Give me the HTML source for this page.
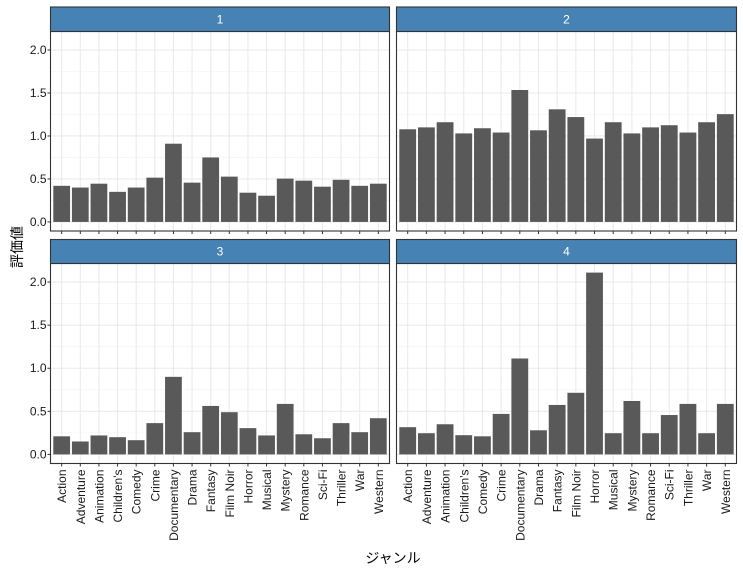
<!DOCTYPE html>
<html><head><meta charset="utf-8"><style>
body{margin:0;background:#fff}
svg{display:block;font-family:"Liberation Sans","Noto Sans CJK JP",sans-serif}
</style></head><body>
<svg id="chart" width="743" height="570" viewBox="0 0 743 570"></svg>
<script>
const genres = ["Action","Adventure","Animation","Children's","Comedy","Crime","Documentary","Drama","Fantasy","Film Noir","Horror","Musical","Mystery","Romance","Sci-Fi","Thriller","War","Western"];
const facetLabels = ["1","2","3","4"];
const values1 = [0.42,0.40,0.445,0.35,0.40,0.515,0.91,0.457,0.75,0.527,0.34,0.305,0.504,0.48,0.41,0.49,0.42,0.445];
const values2 = [1.078,1.10,1.16,1.03,1.09,1.04,1.535,1.066,1.31,1.22,0.97,1.16,1.03,1.10,1.125,1.04,1.16,1.254];
const values3 = [0.21,0.15,0.22,0.20,0.165,0.363,0.90,0.258,0.5625,0.49,0.305,0.22,0.586,0.234,0.1875,0.363,0.258,0.42];
const values4 = [0.316,0.246,0.35,0.223,0.21,0.47,1.113,0.28,0.574,0.715,2.11,0.246,0.62,0.246,0.457,0.586,0.246,0.586];
const yTicks = [0,0.5,1.0,1.5,2.0];
const yTickLabels = ["0.0","0.5","1.0","1.5","2.0"];

const svg = document.getElementById('chart');
const NS = 'http://www.w3.org/2000/svg';
function mk(tag, attrs, parent){const e=document.createElementNS(NS,tag);for(const k in attrs)e.setAttribute(k,attrs[k]);(parent||svg).appendChild(e);return e;}

const allVals = [values1,values2,values3,values4];
const maxV = Math.max(...allVals.flat());
const yMin = -maxV*0.05, yMax = maxV*1.05;
const cols = [[50.5,389.5],[396.5,736.5]];
const rows = [[7,31.5,231],[239.5,263.5,463.5]];

allVals.forEach((vals, i) => {
  const c = cols[i%2], r = rows[Math.floor(i/2)];
  const x0=c[0], x1=c[1], top=r[1], bot=r[2];
  const n = genres.length;
  const step = (x1-x0)/(n-1+1.2);
  const xS = k => x0 + step*(0.6+k);
  const yS = v => bot - (v-yMin)/(yMax-yMin)*(bot-top);
  const g = mk('g',{});
  
  
  mk('rect',{x:x0,y:top,width:x1-x0,height:bot-top,fill:'#fff'},g);
  for(let t=0.25;t<2.2;t+=0.5){ const y=yS(t); if(y>top) mk('line',{x1:x0,x2:x1,y1:y,y2:y,stroke:'#f2f2f2','stroke-width':0.6},g); }
  yTicks.forEach(t=>{const y=yS(t);mk('line',{x1:x0,x2:x1,y1:y,y2:y,stroke:'#ebebeb','stroke-width':1.1},g);});
  genres.forEach((_,k)=>{const x=xS(k);mk('line',{x1:x,x2:x,y1:top,y2:bot,stroke:'#ebebeb','stroke-width':1.1},g);});
  vals.forEach((v,k)=>{
    const b = mk('rect',{x:xS(k)-step*0.45,y:yS(v),width:step*0.9,height:yS(0)-yS(v),fill:'#595959'},g);
    
    
  });
  mk('rect',{x:x0,y:top,width:x1-x0,height:bot-top,fill:'none',stroke:'#333','stroke-width':1.1},g);
  const s = mk('rect',{x:x0,y:r[0],width:x1-x0,height:top-r[0],fill:'#4682b4',stroke:'#333','stroke-width':1.1},g);
  
  
  const st = mk('text',{x:(x0+x1)/2,y:(r[0]+top)/2+4,'text-anchor':'middle','font-size':12,fill:'#fff'},g);
  st.textContent = facetLabels[i];
  
  
  if(i%2===0){
    yTicks.forEach((t,j)=>{const y=yS(t);
      mk('line',{x1:x0-3,x2:x0,y1:y,y2:y,stroke:'#333','stroke-width':1},g);
      const tl=mk('text',{x:x0-4,y:y+4,'text-anchor':'end','font-size':12,fill:'#1a1a1a'},g);
      tl.textContent=yTickLabels[j];
      
      
    });
  }
  genres.forEach((gname,k)=>{const x=xS(k);
    mk('line',{x1:x,x2:x,y1:bot,y2:bot+3,stroke:'#333','stroke-width':1},g);
    if(i>=2){
      const tl=mk('text',{x:0,y:0,'text-anchor':'end','font-size':12,fill:'#1a1a1a',transform:`translate(${x+4.5},${bot+6}) rotate(-90)`},g);
      tl.textContent=gname;
      
      
    }
  });
});
const xt = mk('text',{x:393,y:563,'text-anchor':'middle','font-size':14,fill:'#000'});
xt.textContent='ジャンル';


const yt = mk('text',{x:0,y:0,'text-anchor':'middle','font-size':14,fill:'#000',transform:'translate(22,247) rotate(-90)'});
yt.textContent='評価値';


</script>
</body></html>
